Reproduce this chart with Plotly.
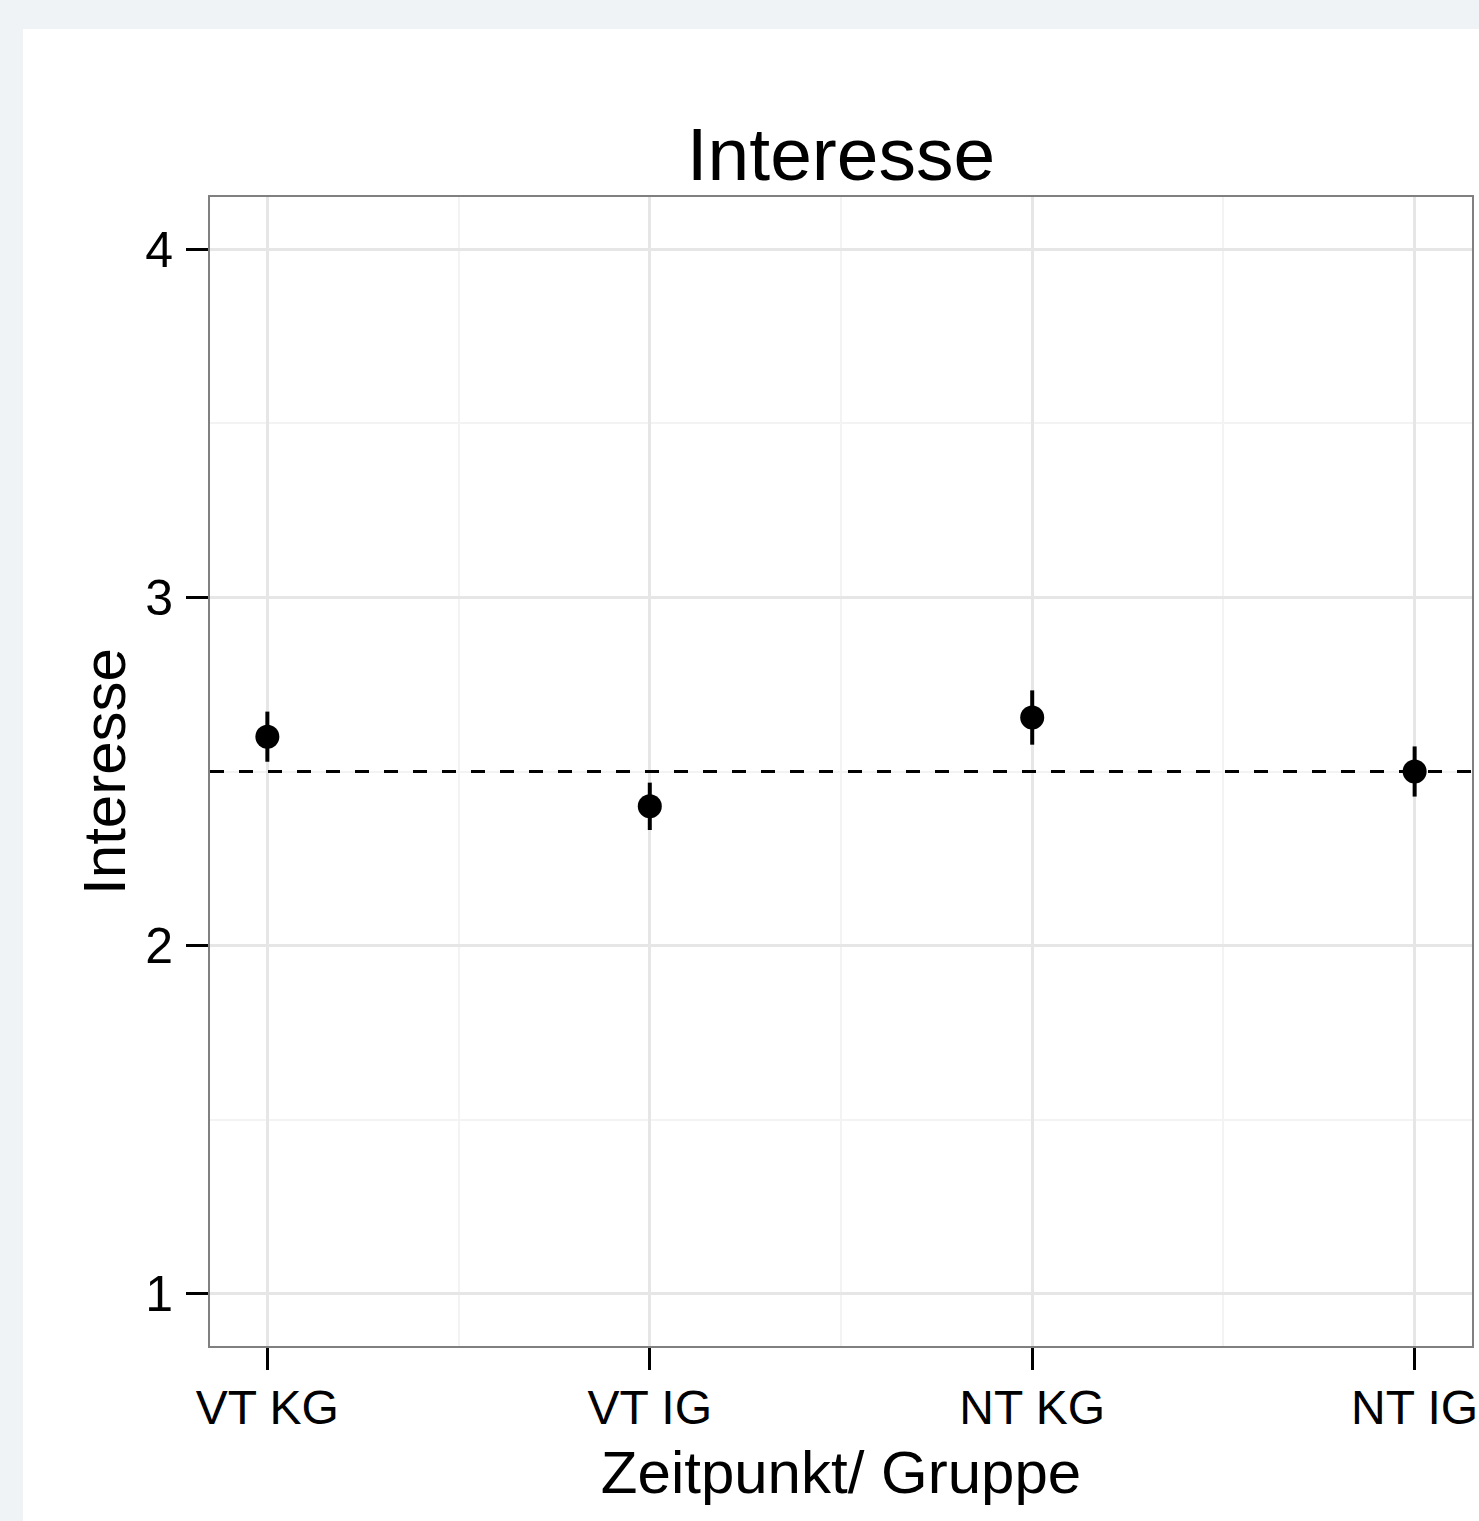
import plotly.graph_objects as go

categories = ["VT KG", "VT IG", "NT KG", "NT IG"]
means = [2.60, 2.40, 2.655, 2.50]
errors = [0.072, 0.068, 0.078, 0.072]
reference_line = 2.5
y_ticks = [1, 2, 3, 4]
title_text = "Interesse"
x_title = "Zeitpunkt/ Gruppe"
y_title = "Interesse"

x_pos = list(range(len(categories)))
FONT = "Liberation Sans, Arial, Helvetica, sans-serif"

W, H = 1479, 1521
L, R, T, B = 210, 7, 197, 175
PW, PH = W - L - R, H - T - B

fig = go.Figure()
fig.add_trace(go.Scatter(
    x=x_pos, y=means, mode="markers",
    marker=dict(color="black", size=24, symbol="circle"),
    error_y=dict(type="data", array=errors, color="black", thickness=4, width=0),
    showlegend=False, hoverinfo="skip",
))

fig.add_shape(type="rect", xref="paper", yref="paper",
              x0=(23 - L) / PW, x1=(W + 10 - L) / PW,
              y0=-(B + 10) / PH, y1=(H - B - 29) / PH,
              fillcolor="white", line=dict(width=0), layer="below")
fig.add_shape(type="line", xref="paper", yref="y", x0=0, x1=1,
              y0=reference_line, y1=reference_line,
              line=dict(color="black", width=3, dash="14px,15px"))

fig.update_layout(
    width=W, height=H,
    paper_bgcolor="#eff3f6", plot_bgcolor="white",
    margin=dict(l=L, r=R, t=T, b=B),
    font=dict(family=FONT, color="black"),
    title=dict(text=title_text, x=(L + PW / 2) / W, xanchor="center",
               y=1 - 180 / H, yanchor="bottom", yref="container",
               font=dict(size=75, family=FONT, color="black")),
)
fig.update_xaxes(
    range=[-0.15, 3.15], tickvals=x_pos, ticktext=categories,
    automargin=False,
    showgrid=True, gridcolor="#e6e6e6", gridwidth=3,
    minor=dict(dtick=1, tick0=0.5, showgrid=True, gridcolor="#f3f3f3", gridwidth=1.5, ticks=""),
    ticks="outside", ticklen=22, tickwidth=3, tickcolor="black",
    ticklabelstandoff=-4, ticklabeloverflow="allow",
    tickfont=dict(size=48, family=FONT, color="black"),
    showline=True, linecolor="#808080", linewidth=2, mirror=True,
    zeroline=False,
    title=dict(text=x_title, font=dict(size=60, family=FONT, color="black"), standoff=18),
)
fig.update_yaxes(
    range=[0.85, 4.15], tickvals=y_ticks,
    automargin=False,
    showgrid=True, gridcolor="#e6e6e6", gridwidth=3,
    minor=dict(dtick=1, tick0=0.5, showgrid=True, gridcolor="#f3f3f3", gridwidth=1.5, ticks=""),
    ticks="outside", ticklen=22, tickwidth=3, tickcolor="black",
    ticklabelstandoff=3,
    tickfont=dict(size=50, family=FONT, color="black"),
    showline=True, linecolor="#808080", linewidth=2, mirror=True,
    zeroline=False,
    title=dict(text=y_title, font=dict(size=60, family=FONT, color="black"), standoff=0),
)

fig.write_html(
    "out.html",
    config={"displayModeBar": False},
    post_script="document.body.style.margin='0';document.documentElement.style.overflow='hidden';",
)
